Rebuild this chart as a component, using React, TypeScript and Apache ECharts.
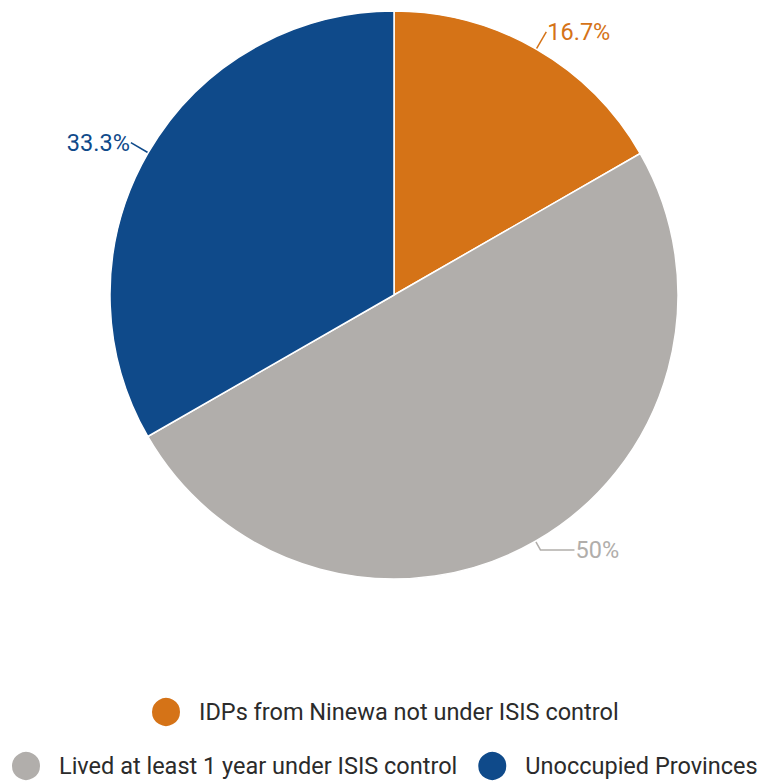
import React, { useEffect, useRef } from "react";
import * as echarts from "echarts";

const categories = [
  "IDPs from Ninewa not under ISIS control",
  "Lived at least 1 year under ISIS control",
  "Unoccupied Provinces",
];
const values = [16.7, 50, 33.3];
const colors = ["#D57317", "#B1AEAB", "#0F4A8A"];

export default function App() {
  const ref = useRef<HTMLDivElement>(null);
  useEffect(() => {
    if (!ref.current) return;
    const chart = echarts.init(ref.current, undefined, { renderer: "svg" });
    const legendBase = {
      orient: "horizontal",
      icon: "circle",
      itemWidth: 30,
      itemHeight: 30,
      itemGap: 19,
      padding: 0,
      textStyle: {
        fontSize: 23.5,
        color: "#2b2b2b",
        fontFamily: "Roboto",
        padding: [0, 0, 0, 13],
      },
    };
    chart.setOption({
      animation: false,
      textStyle: { fontFamily: "Roboto" },
      legend: [
        { ...legendBase, data: [categories[0]], top: 696, left: 150 },
        { ...legendBase, data: [categories[1], categories[2]], top: 750, left: 10 },
      ],
      series: [
        {
          type: "pie",
          center: [394, 295],
          radius: 284,
          startAngle: 90,
          clockwise: true,
          data: categories.map((name, i) => ({
            name,
            value: values[i],
            itemStyle: { color: colors[i] },
            label: {
              color: colors[i],
              padding: i === 1 ? 0 : [0, 0, 14, 0],
            },
            labelLine: {
              length: i === 1 ? 10 : 20,
              length2: i === 1 ? 34 : 0,
              lineStyle: { color: colors[i] },
            },
          })),
          itemStyle: { borderColor: "#fff", borderWidth: 1.5 },
          label: {
            show: true,
            formatter: (p: any) => `${p.value}%`,
            fontSize: 23.5,
            fontFamily: "Roboto",
            distanceToLabelLine: 1,
          },
          labelLine: { show: true, lineStyle: { width: 1.5 } },
        },
      ],
    });
    return () => chart.dispose();
  }, []);
  return (
    <div
      ref={ref}
      style={{ position: "fixed", left: 0, top: 0, width: 760, height: 781, background: "#fff" }}
    />
  );
}
